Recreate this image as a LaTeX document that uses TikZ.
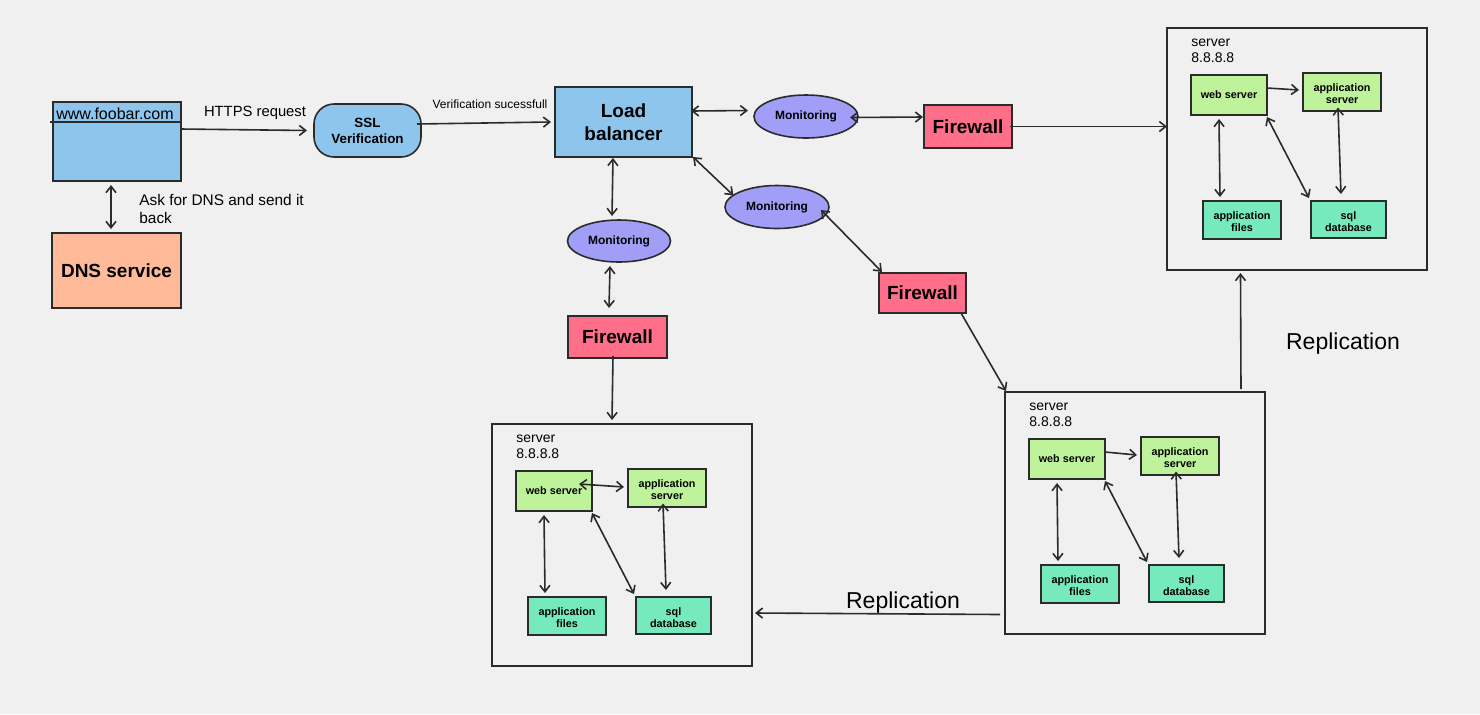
\documentclass[tikz,border=0pt]{standalone}
\usepackage{fontspec}
\setmainfont{Liberation Sans}
\usetikzlibrary{arrows.meta,shapes.geometric,calc}
\definecolor{bgc}{HTML}{F0F0F0}
\definecolor{lblue}{HTML}{8EC5ED}
\definecolor{peach}{HTML}{FFBB99}
\definecolor{fwpink}{HTML}{FF6F8A}
\definecolor{purp}{HTML}{A19EF8}
\definecolor{lgreen}{HTML}{BEF39B}
\definecolor{tealc}{HTML}{76EABC}
\definecolor{ink}{HTML}{2B2B2B}

\tikzset{
  bx/.style={draw=ink, line width=0.8pt, inner sep=0pt, outer sep=0pt},
  arr/.style={draw=ink, line width=0.8pt, -{Straight Barb[length=3.2pt,width=5pt]}},
  darr/.style={draw=ink, line width=0.8pt, {Straight Barb[length=3.2pt,width=5pt]}-{Straight Barb[length=3.2pt,width=5pt]}},
  bigbold/.style={font=\fontsize{9.5}{11.5}\selectfont\bfseries, align=center, text=black},
  monfont/.style={font=\fontsize{6}{7}\selectfont\bfseries, text=black},
  sslfont/.style={font=\fontsize{6.7}{8}\selectfont\bfseries, align=center, text=black},
  smalltext/.style={font=\fontsize{5.4}{6}\selectfont\bfseries, align=center, inner sep=0pt, text=black},
  srvlabel/.style={font=\fontsize{7}{8}\selectfont, align=left, inner sep=0pt, text=black},
  plainlbl/.style={inner sep=0pt, text=black},
}

\newcommand{\clippedlabel}[2]{%
  \begin{scope}
    \clip (#1.north west) rectangle ([yshift=-15.6pt]#1.north east);
    \node[smalltext, anchor=north] at ([yshift=-5.2pt]#1.north) {#2};
  \end{scope}}

\newcommand{\srvunit}[3]{%
  \begin{scope}[shift={(#2,#3)}]
    \node[bx, minimum width=130pt, minimum height=121pt] (#1) at (130,121) {};
    \node[srvlabel, anchor=north west] (#1-lbl) at (24,11) {server\\8.8.8.8};
    \node[bx, fill=lgreen, minimum width=38pt, minimum height=20pt, smalltext] (#1-web) at (62,67) {web server};
    \node[bx, fill=lgreen, minimum width=39pt, minimum height=19pt] (#1-app) at (175,64) {};
    \node[bx, fill=tealc, minimum width=39pt, minimum height=19pt] (#1-files) at (75,192) {};
    \node[bx, fill=tealc, minimum width=37.5pt, minimum height=18.5pt] (#1-sql) at (181.5,191.5) {};
    \clippedlabel{#1-app}{application\\server}
    \clippedlabel{#1-files}{application\\files}
    \clippedlabel{#1-sql}{sql\\database}
    \draw[darr] ([xshift=-5pt,yshift=-2pt]#1-web.south) -- ([xshift=-11pt,yshift=2pt]#1-files.north);
    \draw[darr] ([yshift=-1pt]#1-web.south east) -- ([xshift=-1pt,yshift=1.5pt]#1-sql.north west);
    \draw[darr] ([xshift=-2pt,yshift=1.75pt]#1-app.south) -- ([xshift=-3.75pt,yshift=3.5pt]#1-sql.north);
  \end{scope}}

\begin{document}
\begin{tikzpicture}[x=0.5pt,y=-0.5pt]
\fill[bgc] (0,0) rectangle (1480,714);
\useasboundingbox (0,0) rectangle (1480,714);

% client and DNS
\node[bx, fill=lblue, minimum width=64pt, minimum height=39.5pt] (www) at (117,141.5) {};
\draw[draw=ink, line width=0.8pt] ([xshift=-1.5pt,yshift=-10pt]www.north west) -- ([yshift=-10pt]www.north east);
\node[plainlbl, font=\fontsize{8}{9.6}\selectfont] (wwwtext) at (115,114) {www.foobar.com};
\node[bx, fill=peach, minimum width=64.5pt, minimum height=37.5pt, bigbold] (dns) at (116.5,270.5) {DNS service};
\node[plainlbl, font=\fontsize{7.7}{9}\selectfont, align=left, anchor=north west] (asklbl) at (139,194) {Ask for DNS and send it\\back};

% SSL and load balancer
\node[bx, fill=lblue, rounded corners=10pt, minimum width=53.5pt, minimum height=26.5pt, sslfont] (ssl) at (367.5,130.5) {SSL\\Verification};
\node[plainlbl, font=\fontsize{7.4}{9}\selectfont] (httpslbl) at (255,112.5) {HTTPS request};
\node[bx, fill=lblue, minimum width=68.5pt, minimum height=35pt, bigbold] (lb) at (623.5,122) {Load\\balancer};
\node[plainlbl, font=\fontsize{6}{7}\selectfont] (veriflbl) at (490,104) {Verification sucessfull};

% monitoring
\node[bx, ellipse, fill=purp, minimum width=52pt, minimum height=21.5pt, monfont] (mon1) at (806,116.5) {Monitoring};
\node[bx, ellipse, fill=purp, minimum width=52pt, minimum height=21.5pt, monfont] (mon2) at (777,207) {Monitoring};
\node[bx, ellipse, fill=purp, minimum width=51.5pt, minimum height=21pt, monfont] (mon3) at (619,241) {Monitoring};

% firewalls
\node[bx, fill=fwpink, minimum width=44pt, minimum height=21.5pt, bigbold] (fw1) at (968,126.5) {Firewall};
\node[bx, fill=fwpink, minimum width=43.5pt, minimum height=20pt, bigbold] (fw2) at (922.5,293) {Firewall};
\node[bx, fill=fwpink, minimum width=49.5pt, minimum height=21pt, bigbold] (fw3) at (617.5,337) {Firewall};

% servers
\srvunit{srvA}{1167}{28}
\srvunit{srvB}{1005}{392}
\srvunit{srvC}{492}{424}
\draw[arr] ([yshift=3.5pt]srvA-web.east) -- ([xshift=-2pt,yshift=1pt]srvA-app.west);
\draw[arr] ([yshift=3.5pt]srvB-web.east) -- ([xshift=-2pt,yshift=0.5pt]srvB-app.west);
\draw[darr] ([xshift=-6.5pt,yshift=3.5pt]srvC-web.east) -- ([xshift=-2pt,yshift=0.5pt]srvC-app.west);

\node[plainlbl, font=\fontsize{11.5}{13}\selectfont] (rep1) at (1343,344) {Replication};
\node[plainlbl, font=\fontsize{11.5}{13}\selectfont] (rep2) at (903,603) {Replication};

% connectors
\draw[darr] ([xshift=-3pt,yshift=-2pt]www.south) -- ([xshift=-2.75pt,yshift=2pt]dns.north);
\draw[arr] ([yshift=6.25pt]www.east) -- ([xshift=-3.5pt]ssl.west);
\draw[arr] ([xshift=-2pt,yshift=3.25pt]ssl.east) -- ([xshift=-2pt]lb.west);
\draw[darr] ([xshift=-0.5pt,yshift=5.5pt]lb.east) -- ([xshift=-3pt,yshift=3pt]mon1.west);
\draw[darr] ([xshift=-4pt,yshift=-0.5pt]mon1.east) -- ([xshift=-0.5pt,yshift=4.75pt]fw1.west);
\draw[arr] ([xshift=-1pt]fw1.east) -- (fw1.east -| srvA.west);
\draw[darr] ([xshift=0.5pt]lb.south east) -- (mon2.165);
\draw[darr] ([shift={(22pt,-1.5pt)}]mon2.center) -- ([xshift=1.5pt,yshift=0.5pt]fw2.north west);
\draw[arr] ([xshift=-2.5pt]fw2.south east) -- ([xshift=0.5pt,yshift=0.5pt]srvB.north west);
\draw[arr] ([xshift=53pt,yshift=1.5pt]srvB.north) -- ([xshift=-28.25pt,yshift=-1.5pt]srvA.south);
\draw[arr] ([xshift=-2.5pt,yshift=-50.75pt]srvB.west) -- ([xshift=1.5pt,yshift=-34pt]srvC.east);
\draw[darr] ([xshift=-5.25pt,yshift=-0.5pt]lb.south) -- ([xshift=-3.5pt,yshift=2pt]mon3.north);
\draw[darr] ([xshift=-4.5pt,yshift=-2pt]mon3.south) -- ([xshift=-4.25pt,yshift=4pt]fw3.north);
\draw[arr] ([xshift=-2.25pt,yshift=1pt]fw3.south) -- ([xshift=-5pt,yshift=2pt]srvC.north);
\end{tikzpicture}
\end{document}
